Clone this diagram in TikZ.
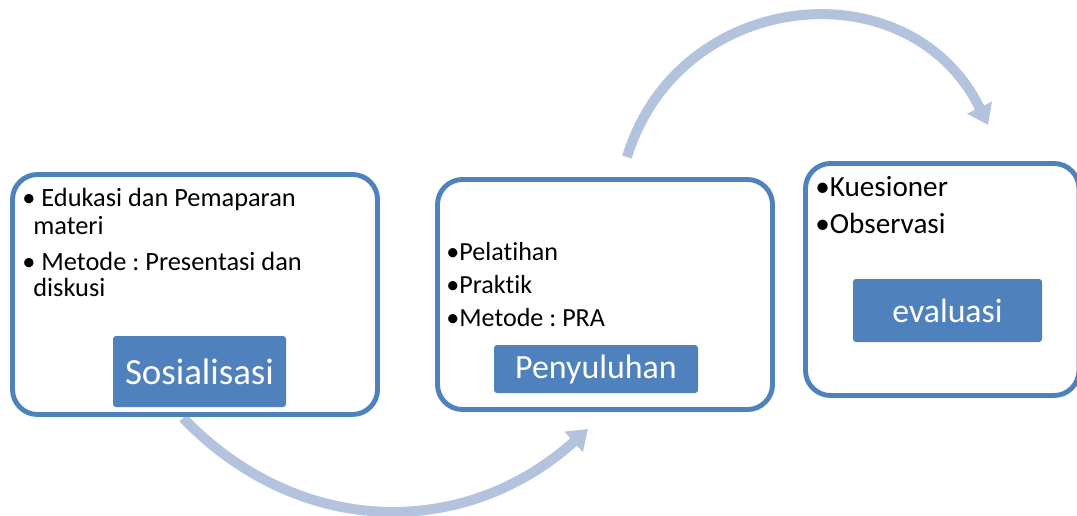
\documentclass[tikz,border=0pt]{standalone}
\usepackage{fontspec}
\setmainfont{Carlito}[Ligatures=NoCommon]
\usepackage{xcolor}
\usepackage{tikz}
\usetikzlibrary{positioning, arrows.meta}

\definecolor{boxblue}{HTML}{4F81BD}
\definecolor{arcblue}{HTML}{B3C3DE}

\tikzset{
    stagebox/.style={draw=boxblue, line width=2.8pt, fill=white, rounded corners=0.5cm},
    stagelabel/.style={fill=boxblue, text=white, rounded corners=0.06cm, inner sep=0pt},
    itemtext/.style={anchor=base west, inner sep=0pt},
    flowarc/.style={draw=arcblue, line width=5.7pt, -{Triangle[width=15pt, length=11pt]}}
}
\frenchspacing

\begin{document}
\begin{tikzpicture}
    \useasboundingbox (0,0) rectangle (21.54,10.3);

    \coordinate (s1) at (3.66,1.94);
    \coordinate (e1) at (11.76,1.72);
    \coordinate (s2) at (12.54,7.16);
    \coordinate (e2) at (19.76,7.8);

    % curved arrows between the stages
    \draw[flowarc] (s1) to[out=-46, in=-138, looseness=1.05] (e1);
    \draw[flowarc] (s2) to[out=73, in=116, looseness=1.25] (e2);

    \node[stagebox, minimum width=7.3cm, minimum height=4.8cm] (sos) at (3.9,4.41) {};
    \node[stagebox, minimum width=6.7cm, minimum height=4.6cm] (pen) at (12.1,4.41) {};
    \node[stagebox, minimum width=5.47cm, minimum height=4.64cm] (eva) at (18.845,4.71) {};

    \node[stagelabel, minimum width=3.46cm, minimum height=1.42cm, font=\fontsize{21}{25}\selectfont] (soslabel) at (3.99,2.87) {Sosialisasi};
    \node[stagelabel, minimum width=4.08cm, minimum height=0.96cm, font=\fontsize{19.3}{23}\selectfont] (penlabel) at (11.92,2.92) {Penyuluhan};
    \node[stagelabel, minimum width=3.78cm, minimum height=1.26cm, font=\fontsize{19.2}{23}\selectfont] (evalabel) at (18.95,4.09) {evaluasi};

    % bullet items
    \node[itemtext, font=\fontsize{15}{18}\selectfont] (edu) at (0.44,6.166) {• Edukasi dan Pemaparan};
    \node[itemtext, font=\fontsize{15}{18}\selectfont] (mat) at (0.66,5.62) {materi};
    \node[itemtext, font=\fontsize{15}{18}\selectfont] (met) at (0.44,4.9) {• Metode : Presentasi dan};
    \node[itemtext, font=\fontsize{15}{18}\selectfont] (dis) at (0.66,4.366) {diskusi};

    \node[itemtext, font=\fontsize{14.85}{18}\selectfont] (pel) at (8.92,5.1) {•Pelatihan};
    \node[itemtext, font=\fontsize{14.85}{18}\selectfont] (pra) at (8.92,4.434) {•Praktik};
    \node[itemtext, font=\fontsize{14.85}{18}\selectfont] (pramet) at (8.92,3.766) {•Metode : PRA};

    \node[itemtext, font=\fontsize{16.6}{20}\selectfont] (kue) at (16.3,6.366) {•Kuesioner};
    \node[itemtext, font=\fontsize{16.6}{20}\selectfont] (obs) at (16.3,5.634) {•Observasi};
\end{tikzpicture}
\end{document}
